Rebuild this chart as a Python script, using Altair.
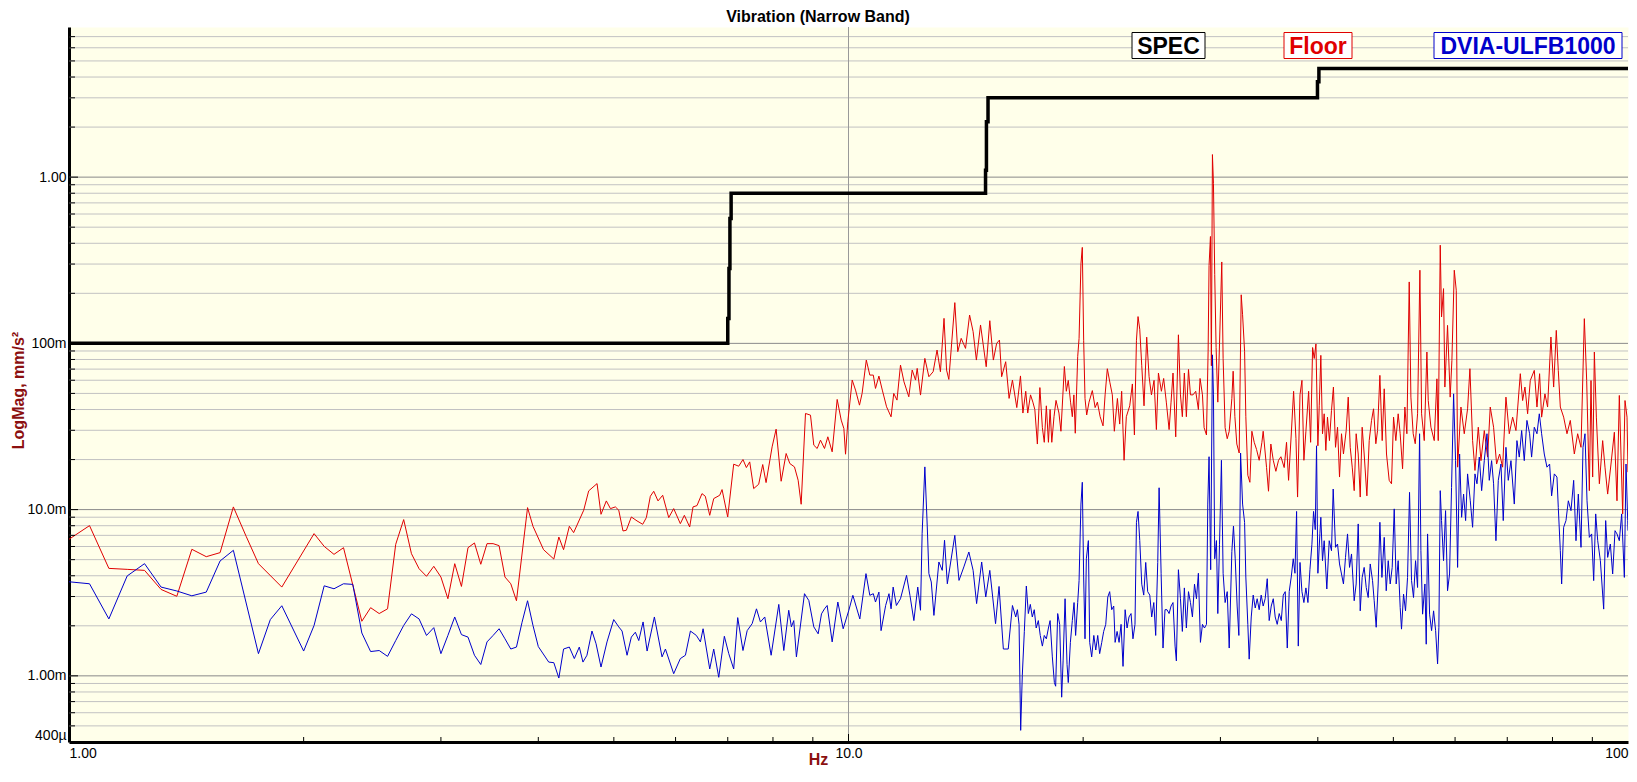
import altair as alt
import pandas as pd

# ---------------- data ----------------
SPEC_F = [1.0, 7.0, 7.0, 7.025, 7.025, 7.045, 7.045, 7.07, 7.07,
          14.99, 14.99, 15.03, 15.03, 15.1, 15.1,
          39.96, 39.96, 40.13, 40.13, 100.0]
SPEC_V = [0.1, 0.1, 0.141, 0.141, 0.282, 0.282, 0.564, 0.564, 0.8,
          0.8, 1.1, 1.1, 2.15, 2.15, 3.0,
          3.0, 3.75, 3.75, 4.5, 4.5]

FLOOR_F = [
    1.0, 1.0625, 1.125, 1.1875, 1.25, 1.3125, 1.375, 1.4375, 1.5, 1.5625,
    1.625, 1.6875, 1.75, 1.875, 2.0625, 2.125, 2.1875, 2.25, 2.375, 2.4375,
    2.5, 2.5625, 2.625, 2.6875, 2.75, 2.8125, 2.875, 2.9375, 3.0, 3.0625,
    3.125, 3.1875, 3.25, 3.3125, 3.375, 3.4375, 3.5, 3.5625, 3.625, 3.6875,
    3.75, 3.875, 3.9375, 4.0625, 4.1875, 4.25,
    4.31, 4.384, 4.44, 4.574, 4.642, 4.758, 4.814, 4.89, 4.95, 5.023,
    5.073, 5.137, 5.188, 5.265, 5.354, 5.445, 5.504, 5.569, 5.625, 5.697,
    5.776, 5.88, 5.967, 6.085, 6.158, 6.255, 6.317, 6.392, 6.487, 6.551,
    6.637, 6.716, 6.836, 6.883, 6.999, 7.124, 7.23, 7.322, 7.396, 7.469,
    7.557, 7.67, 7.762, 7.839, 7.98, 8.075, 8.196, 8.318, 8.409, 8.525,
    8.618, 8.695, 8.807, 8.938, 9.026, 9.116, 9.206, 9.316, 9.408, 9.529,
    9.671, 9.787, 9.864, 9.913, 9.98, 10.11, 10.21, 10.33, 10.41, 10.54,
    10.65, 10.76, 10.83, 10.94, 11.05, 11.19, 11.34, 11.43, 11.54, 11.66,
    11.78, 11.95, 12.07, 12.19, 12.25, 12.37, 12.53, 12.68, 12.84, 12.99,
    13.12, 13.26, 13.36, 13.45, 13.69, 13.81, 13.95, 14.13, 14.3, 14.45,
    14.59, 14.77, 15.02, 15.18, 15.34, 15.49, 15.62, 15.72, 15.91, 16.07,
    16.23,
    16.44, 16.62, 16.74, 16.88, 16.98, 17.12, 17.24, 17.34, 17.47, 17.60,
    17.73, 17.83, 17.94, 18.05, 18.14, 18.23, 18.35, 18.46, 18.62, 18.73,
    18.92, 19.03, 19.14, 19.27, 19.37, 19.46, 19.54, 19.68, 19.76, 19.87,
    19.95, 20.03, 20.11, 20.21, 20.35, 20.55, 20.72, 20.86, 21.03, 21.21,
    21.34, 21.48, 21.64, 21.80, 21.93, 22.13, 22.28, 22.41, 22.57, 22.72,
    22.95, 23.13, 23.27, 23.41, 23.52, 23.64, 23.78, 23.94, 24.13, 24.30,
    24.47, 24.66, 24.83, 24.98, 25.20, 25.37, 25.57, 25.78, 25.93, 26.08,
    26.29, 26.50, 26.66, 26.81, 26.97, 27.13, 27.30, 27.46, 27.67, 27.89,
    28.11, 28.25, 28.45, 28.59, 28.79, 28.93, 29.01, 29.13, 29.21, 29.30,
    29.39, 29.50, 29.62, 29.77, 29.92, 30.12, 30.24, 30.42, 30.61, 30.79,
    31.03, 31.15, 31.31, 31.49, 31.71, 31.90, 32.03, 32.22, 32.34, 32.53,
    32.73, 32.92, 33.15, 33.38, 33.64, 33.91, 34.04, 34.38, 34.58, 34.82,
    35.07, 35.34, 35.62, 35.87, 36.22, 36.47, 36.69, 36.98, 37.24, 37.50,
    37.68, 37.95, 38.17, 38.39, 38.62, 38.93, 39.16, 39.39, 39.58, 39.78,
    40.01, 40.17,
    40.36, 40.56, 40.76, 40.96, 41.16, 41.40, 41.65, 41.89, 42.15, 42.40,
    42.65, 42.90, 43.15, 43.50, 43.76, 44.02, 44.28, 44.54, 44.80, 45.07,
    45.34, 45.60, 45.87, 46.24, 46.56, 46.88, 47.16, 47.48, 47.72, 48.05,
    48.38, 48.67, 49.00, 49.39, 49.73, 50.03, 50.37, 50.72, 51.02, 51.38,
    51.73, 52.04, 52.40, 52.66, 53.02, 53.34, 53.71, 54.08, 54.35, 54.78,
    55.21, 55.43, 55.87, 56.42, 56.87, 57.09, 57.43, 57.65, 57.99, 58.22,
    58.68, 59.14, 59.44, 59.86, 60.21, 60.45, 61.05, 61.65, 62.26, 62.69,
    63.19, 63.63, 64.26, 64.77, 65.41, 66.05, 66.57, 67.23, 67.83, 68.44,
    69.05, 69.73, 70.42, 71.12, 71.82, 72.75, 73.25, 73.76, 74.34, 74.93,
    75.82, 76.42, 77.02, 77.48, 78.24, 78.86, 79.64, 80.28, 80.91, 81.39,
    81.88, 82.69, 83.51, 84.33, 85.34, 86.18, 87.04, 87.90, 88.51, 89.21,
    89.65, 90.09, 90.54, 91.08, 91.89, 92.79, 93.43, 94.17, 95.10, 96.05,
    96.80, 97.47, 98.44, 99.12, 99.71, 100.0,
]
FLOOR_V = [
    0.00663, 0.00801, 0.00443, 0.00437, 0.00431, 0.00331, 0.00301, 0.00577, 0.00521, 0.00551,
    0.01038, 0.00691, 0.00473, 0.00342, 0.00717, 0.00601, 0.00538, 0.0059, 0.00213, 0.00257,
    0.00237, 0.00253, 0.00618, 0.00871, 0.00543, 0.00441, 0.00397, 0.00456, 0.00393, 0.00291,
    0.00473, 0.00345, 0.0059, 0.0063, 0.00469, 0.00624, 0.00624, 0.00607, 0.00393, 0.00358,
    0.00283, 0.01028, 0.00794, 0.00574, 0.00504, 0.00684,
    0.00574, 0.00794, 0.00727, 0.00991, 0.01296, 0.01434, 0.00937, 0.01128, 0.01014, 0.01038,
    0.00991, 0.00744, 0.00751, 0.00903, 0.00855, 0.00816, 0.00895, 0.01203, 0.01289, 0.01128,
    0.0122, 0.00895, 0.01014, 0.00823, 0.00924, 0.00786, 0.01038, 0.01057, 0.01248, 0.01203,
    0.00924, 0.01165, 0.0122, 0.0132, 0.00903, 0.01876, 0.01824, 0.02001, 0.0179, 0.01937,
    0.01338, 0.01421, 0.01867, 0.01454, 0.02385, 0.03047, 0.01481, 0.02175, 0.01893, 0.01807,
    0.01502, 0.01077, 0.03787, 0.037, 0.02441, 0.02331, 0.02617, 0.02331, 0.02741, 0.02226,
    0.046, 0.03453, 0.03076, 0.02154, 0.03374, 0.06013, 0.05235, 0.0425, 0.05, 0.07937,
    0.06445, 0.06445, 0.05357, 0.06357, 0.05235, 0.04154, 0.03616, 0.05, 0.04557, 0.07405,
    0.05876, 0.04771, 0.0691, 0.06013, 0.0707, 0.04885, 0.08122, 0.063, 0.06752, 0.09118,
    0.06752, 0.1414, 0.0691, 0.06069, 0.1758, 0.0891, 0.1072, 0.0933, 0.1481, 0.1176,
    0.07937, 0.129, 0.07236, 0.1369, 0.07937, 0.1, 0.1047, 0.063, 0.07756, 0.04665,
    0.06013,
    0.0411, 0.0637, 0.0381, 0.0515, 0.0381, 0.0490, 0.0443, 0.0400, 0.0248, 0.0542,
    0.0311, 0.0254, 0.0421, 0.0254, 0.0400, 0.0254, 0.0362, 0.0454, 0.0381, 0.0296,
    0.0726, 0.0515, 0.0599, 0.0443, 0.0362, 0.0490, 0.0288, 0.0832, 0.1071, 0.3012,
    0.3778, 0.1044, 0.0466, 0.0371, 0.0443, 0.0520, 0.0411, 0.0443, 0.0362, 0.0319,
    0.0490, 0.0704, 0.0584, 0.0490, 0.0296, 0.0466, 0.0327, 0.0515, 0.0198, 0.0362,
    0.0421, 0.0570, 0.0281, 0.1044, 0.1449, 0.1215, 0.0733, 0.0421, 0.1090, 0.0630,
    0.0490, 0.0599, 0.0303, 0.0663, 0.0515, 0.0615, 0.0443, 0.0303, 0.0443, 0.0663,
    0.0274, 0.1126, 0.0490, 0.0362, 0.0663, 0.0362, 0.0697, 0.0490, 0.0490, 0.0515,
    0.0400, 0.0615, 0.0490, 0.0311, 0.0281, 0.0897, 0.2935, 0.4395, 0.0733, 1.367,
    0.913, 0.2588, 0.0944, 0.0443, 0.0992, 0.3088, 0.0811, 0.0311, 0.0267, 0.0296,
    0.0466, 0.0680, 0.0362, 0.0248, 0.0219, 0.1960, 0.1486, 0.0897, 0.0362, 0.0161,
    0.0146, 0.0296, 0.0254, 0.0230, 0.0198, 0.0254, 0.0296, 0.0179, 0.0129, 0.0248,
    0.0198, 0.0170, 0.0198, 0.0208, 0.0179, 0.0254, 0.0150, 0.0281, 0.0515, 0.0267,
    0.0119, 0.0490, 0.0599, 0.0198, 0.0296, 0.0515, 0.0254, 0.0944, 0.0811, 0.0992,
    0.0242, 0.0421,
    0.0847, 0.0286, 0.0377, 0.0227, 0.0360, 0.0260, 0.0395, 0.0546, 0.0237, 0.0313,
    0.0157, 0.0286, 0.0216, 0.0299, 0.0475, 0.0237, 0.0180, 0.0130, 0.0286, 0.0216,
    0.0119, 0.0313, 0.0216, 0.0121, 0.0260, 0.0344, 0.0404, 0.0249, 0.0299, 0.0642,
    0.0260, 0.0533, 0.0216, 0.0150, 0.0143, 0.0360, 0.0260, 0.0377, 0.0286, 0.0176,
    0.0414, 0.0286, 0.2342, 0.0475, 0.0286, 0.0249, 0.0377, 0.2754, 0.0377, 0.0260,
    0.0887, 0.0453, 0.0313, 0.0260, 0.0612, 0.0260, 0.3895, 0.1441, 0.2135, 0.0546,
    0.1283, 0.0475, 0.0790, 0.2754, 0.2086, 0.0180, 0.0414, 0.0286, 0.0404, 0.0704,
    0.0260, 0.0172, 0.0313, 0.0197, 0.0299, 0.0207, 0.0414, 0.0313, 0.0188, 0.0216,
    0.0180, 0.0475, 0.0286, 0.0360, 0.0299, 0.0657, 0.0453, 0.0546, 0.0377, 0.0598,
    0.0688, 0.0414, 0.0657, 0.0360, 0.0497, 0.0414, 0.1092, 0.0546, 0.1197, 0.0688,
    0.0414, 0.0360, 0.0286, 0.0344, 0.0216, 0.0286, 0.0237, 0.1408, 0.0598, 0.0130,
    0.0598, 0.0157, 0.0887, 0.0360, 0.0143, 0.0260, 0.0180, 0.0124, 0.0188, 0.0292,
    0.0113, 0.0486, 0.00942, 0.0453, 0.0360, 0.0168,
]

DVIA_F = [
    1.0, 1.0625, 1.125, 1.1875, 1.25, 1.3125, 1.375, 1.4375, 1.5, 1.5625,
    1.625, 1.75, 1.8125, 1.875, 2.0, 2.0625, 2.125, 2.1875, 2.25, 2.3125,
    2.375, 2.4375, 2.5, 2.5625, 2.625, 2.6875, 2.75, 2.8125, 2.875, 2.9375,
    3.0, 3.0625, 3.125, 3.1875, 3.25, 3.3125, 3.375, 3.4375, 3.5, 3.5625,
    3.625, 3.6875, 3.75, 3.8125, 3.875, 3.9375, 4.0, 4.125, 4.1875, 4.25,
    4.31, 4.384, 4.449, 4.515, 4.564, 4.618, 4.687, 4.744, 4.814, 4.90,
    4.998, 5.073, 5.123, 5.199, 5.265, 5.328, 5.382, 5.451, 5.516, 5.636,
    5.765, 5.823, 5.967, 6.085, 6.177, 6.269, 6.38, 6.457, 6.508, 6.637,
    6.716, 6.816, 6.93, 7.021, 7.124, 7.209, 7.322, 7.413, 7.523, 7.62,
    7.709, 7.809, 7.957, 8.139, 8.26, 8.382, 8.448, 8.507, 8.574, 8.781,
    8.894, 9.026, 9.143, 9.233, 9.316, 9.389, 9.529, 9.69, 9.844, 10.01,
    10.13, 10.34, 10.53, 10.65, 10.76, 10.83, 10.94, 11.01, 11.16, 11.27,
    11.34, 11.41, 11.52, 11.66, 11.87, 11.99, 12.13, 12.27, 12.37, 12.43,
    12.53, 12.62, 12.68, 12.77, 12.87, 13.06, 13.19, 13.28, 13.39, 13.69,
    13.86, 14.06, 14.27, 14.45, 14.60, 14.82, 15.0, 15.18, 15.44, 15.6,
    15.8, 16.03, 16.23,
    16.39, 16.47, 16.55, 16.63, 16.71, 16.81, 16.91, 17.01, 17.11, 17.21,
    17.31, 17.41, 17.52, 17.62, 17.73, 17.83, 17.94, 18.05, 18.14, 18.26,
    18.37, 18.44, 18.55, 18.66, 18.77, 18.85, 18.96, 19.07, 19.14, 19.26,
    19.37, 19.47, 19.56, 19.68, 19.76, 19.87, 19.95, 20.03, 20.11, 20.19,
    20.31, 20.39, 20.51, 20.64, 20.76, 20.88, 21.00, 21.13, 21.25, 21.38,
    21.51, 21.63, 21.76, 21.89, 21.98, 22.11, 22.24, 22.37, 22.50, 22.64,
    22.77, 22.90, 23.04, 23.17, 23.31, 23.41, 23.52, 23.64, 23.78, 23.92,
    24.06, 24.20, 24.35, 24.49, 24.64, 24.78, 24.93, 25.03, 25.18, 25.32,
    25.47, 25.62, 25.78, 25.93, 26.08, 26.24, 26.34, 26.50, 26.66, 26.81,
    26.97, 27.13, 27.30, 27.46, 27.62, 27.79, 27.95, 28.11, 28.28, 28.45,
    28.62, 28.79, 28.90, 29.01, 29.15, 29.30, 29.39, 29.50, 29.65, 29.77,
    29.92, 30.09, 30.24, 30.42, 30.61, 30.79, 31.03, 31.18, 31.34, 31.52,
    31.68, 31.84, 32.03, 32.22, 32.34, 32.53, 32.66, 32.86, 33.05, 33.25,
    33.44, 33.64, 33.84, 34.04, 34.24, 34.45, 34.65, 34.86, 35.07, 35.27,
    35.48, 35.69, 35.91, 36.12, 36.33, 36.55, 36.76, 36.98, 37.20, 37.39,
    37.57, 37.76, 37.95, 38.17, 38.39, 38.62, 38.85, 39.08, 39.31, 39.50,
    39.70, 39.85, 40.01, 40.25,
    40.36, 40.56, 40.76, 41.08, 41.37, 41.65, 41.86, 42.15, 42.40, 42.65,
    42.90, 43.15, 43.41, 43.67, 43.93, 44.19, 44.54, 44.80, 45.07, 45.34,
    45.60, 45.87, 46.15, 46.42, 46.70, 47.02, 47.25, 47.53, 47.81, 48.05,
    48.34, 48.67, 48.96, 49.25, 49.54, 49.83, 50.13, 50.42, 50.72, 51.02,
    51.22, 51.53, 51.83, 52.14, 52.45, 52.76, 53.07, 53.39, 53.71, 54.03,
    54.24, 54.51, 54.89, 55.10, 55.32, 55.65, 55.98, 56.31, 56.65, 56.98,
    57.20, 57.43, 57.65, 57.99, 58.34, 58.68, 59.03, 59.38, 59.74, 60.09,
    60.45, 60.81, 61.17, 61.53, 61.90, 62.26, 62.76, 63.19, 63.63, 64.01,
    64.45, 64.90, 65.41, 65.93, 66.38, 66.84, 67.23, 67.70, 68.17, 68.71,
    69.18, 69.73, 70.21, 70.77, 71.47, 72.03, 72.53, 73.04, 73.61, 74.19,
    74.78, 75.22, 75.82, 76.42, 76.95, 77.48, 78.09, 78.71, 79.33, 79.80,
    80.44, 81.07, 81.39, 81.88, 82.20, 82.69, 83.26, 83.84, 84.50, 85.17,
    85.76, 86.35, 87.04, 87.55, 88.07, 88.60, 89.21, 89.82, 90.36, 90.90,
    91.44, 92.16, 93.07, 93.62, 94.17, 94.92, 95.57, 96.24, 96.80, 97.47,
    98.15, 98.93, 99.42, 99.91, 100.0,
]
DVIA_V = [
    0.00368, 0.00358, 0.0022, 0.00399, 0.00473, 0.00342, 0.00324, 0.00303, 0.00319, 0.00491,
    0.00569, 0.00136, 0.00218, 0.00264, 0.00141, 0.00201, 0.00348, 0.00334, 0.00358, 0.00355,
    0.00181, 0.0014, 0.00142, 0.00131, 0.00163, 0.00201, 0.00236, 0.0022, 0.00175, 0.00195,
    0.00136, 0.00175, 0.00226, 0.00177, 0.00171, 0.00133, 0.00117, 0.0016, 0.00175, 0.00192,
    0.00167, 0.00145, 0.00149, 0.0021, 0.00283, 0.00201, 0.0015, 0.00121, 0.0012, 0.00097,
    0.00145, 0.00149, 0.00127, 0.00149, 0.00121, 0.00133, 0.00186, 0.00156, 0.00113, 0.0016,
    0.00218, 0.00197, 0.00186, 0.00133, 0.00171, 0.00183, 0.00163, 0.00211, 0.00141, 0.00226,
    0.0013, 0.00145, 0.00103, 0.00127, 0.00133, 0.00186, 0.00175, 0.0016, 0.00192, 0.0011,
    0.00145, 0.00098, 0.00173, 0.00136, 0.0011, 0.00224, 0.00142, 0.00187, 0.00206, 0.00253,
    0.00211, 0.00226, 0.00133, 0.00269, 0.00142, 0.00248, 0.00197, 0.00215, 0.0013, 0.00312,
    0.00284, 0.00197, 0.00179, 0.00236, 0.00253, 0.00265, 0.0016, 0.00278, 0.00192, 0.00248,
    0.00305, 0.0022, 0.00412, 0.00305, 0.00312, 0.00278, 0.00319, 0.00187, 0.00265, 0.00312,
    0.00253, 0.00342, 0.00265, 0.00291, 0.00402, 0.00305, 0.00215, 0.00342, 0.00248, 0.00717,
    0.01807, 0.00786, 0.00412, 0.00367, 0.00231, 0.00484, 0.00431, 0.00654, 0.00358, 0.007,
    0.00375, 0.00452, 0.00556, 0.00431, 0.00272, 0.00484, 0.00298, 0.00431, 0.00206, 0.00345,
    0.00145, 0.00145, 0.00265,
    0.00226, 0.0025, 0.00204, 0.00047, 0.00101, 0.00185, 0.00347, 0.00237, 0.00269, 0.00226,
    0.0025, 0.00194, 0.00215, 0.00175, 0.00151, 0.00175, 0.00167, 0.00194, 0.00215, 0.0013,
    0.000911, 0.000866, 0.00237, 0.00204, 0.000744, 0.00123, 0.00291, 0.00117, 0.000911, 0.00159,
    0.00215, 0.00276, 0.00175, 0.00276, 0.00374, 0.0108, 0.0146, 0.00393, 0.00167, 0.00506,
    0.00651, 0.00159, 0.0013, 0.00175, 0.00143, 0.00175, 0.00136, 0.00159, 0.00185, 0.00204,
    0.00298, 0.00321, 0.0025, 0.00263, 0.00159, 0.00185, 0.00159, 0.00204, 0.00114, 0.0025,
    0.00194, 0.00226, 0.00237, 0.00167, 0.00204, 0.00838, 0.00975, 0.00651, 0.00356, 0.00306,
    0.00481, 0.00321, 0.00306, 0.00226, 0.00276, 0.00175, 0.00481, 0.01353, 0.00414, 0.00147,
    0.0025, 0.0025, 0.00237, 0.00263, 0.00276, 0.00151, 0.00123, 0.00435, 0.00291, 0.00185,
    0.00338, 0.00194, 0.00321, 0.00276, 0.00226, 0.00356, 0.00291, 0.00414, 0.00159, 0.00204,
    0.00194, 0.00204, 0.0108, 0.0208, 0.00435, 0.0853, 0.0490, 0.00506, 0.00651, 0.00237,
    0.00619, 0.0198, 0.00414, 0.00276, 0.00321, 0.00147, 0.0056, 0.00797, 0.00506, 0.00263,
    0.00175, 0.0219, 0.0108, 0.00838, 0.00393, 0.00204, 0.00126, 0.00226, 0.00306, 0.00256,
    0.00291, 0.0025, 0.00306, 0.00263, 0.00291, 0.00384, 0.00215, 0.00263, 0.00291, 0.00226,
    0.00204, 0.00237, 0.00215, 0.00306, 0.00321, 0.00147, 0.00321, 0.00393, 0.00506, 0.00414,
    0.00975, 0.00151, 0.00481, 0.00321, 0.00276, 0.00338, 0.00276, 0.00435, 0.00619, 0.00975,
    0.00758, 0.0242, 0.00414, 0.0072,
    0.00899, 0.00493, 0.0065, 0.00333, 0.0065, 0.00566, 0.0133, 0.00593, 0.00621, 0.00471,
    0.0041, 0.00357, 0.00516, 0.00714, 0.00449, 0.00541, 0.00283, 0.00357, 0.0082, 0.00246,
    0.00391, 0.00449, 0.0034, 0.00296, 0.00471, 0.00374, 0.00283, 0.00196, 0.00357, 0.00839,
    0.00391, 0.00681, 0.00325, 0.00493, 0.00357, 0.00449, 0.0101, 0.00357, 0.00493, 0.00258,
    0.00191, 0.0031, 0.00246, 0.00391, 0.0127, 0.00374, 0.00296, 0.00493, 0.0034, 0.0286,
    0.00566, 0.00235, 0.00357, 0.00155, 0.00714, 0.00235, 0.00187, 0.00246, 0.00187, 0.00118,
    0.00196, 0.0130, 0.00859, 0.00493, 0.00986, 0.00325, 0.0041, 0.0136, 0.0497, 0.0197,
    0.00449, 0.0216, 0.00899, 0.0124, 0.00859, 0.0164, 0.0113, 0.00783, 0.0164, 0.0143,
    0.0207, 0.0130, 0.0197, 0.0286, 0.0150, 0.0197, 0.0143, 0.0065, 0.0150, 0.0188,
    0.00859, 0.0237, 0.0150, 0.0197, 0.0108, 0.0260, 0.0207, 0.0299, 0.0197, 0.0344,
    0.0286, 0.0207, 0.0313, 0.0286, 0.0377, 0.0286, 0.0216, 0.0180, 0.0188, 0.0121,
    0.0164, 0.0157, 0.0103, 0.00566, 0.00357, 0.00783, 0.00859, 0.0113, 0.00986, 0.0150,
    0.0065, 0.0124, 0.00593, 0.0237, 0.0286, 0.0113, 0.00681, 0.00714, 0.00374, 0.00942,
    0.0065, 0.00493, 0.00252, 0.00859, 0.00516, 0.00621, 0.0041, 0.00747, 0.00714, 0.0065,
    0.00942, 0.00391, 0.0188, 0.00859, 0.00747,
]

TITLE = "Vibration (Narrow Band)"
SERIES = ["SPEC", "Floor", "DVIA-ULFB1000"]
COLORS = ["#000000", "#E00000", "#0000CC"]
Y_LABEL_VALUES = [0.0004, 0.001, 0.01, 0.1, 1.0]
X_LABEL_VALUES = [1.0, 10.0, 100.0]
X_DOMAIN = [1.0, 100.0]
Y_DOMAIN = [0.0004, 8.0]

# ---------------- layout / style ----------------
W, H = 1559, 715
FONT = "Liberation Sans"
TITLE_RED = "#8B1010"
BG = "#FFFFEA"

xs = alt.Scale(type="log", domain=X_DOMAIN, nice=False)
ys = alt.Scale(type="log", domain=Y_DOMAIN, nice=False)


def series_df(f, v, sort=True):
    df = pd.DataFrame({"f": f, "v": v})
    if sort:
        df = df.sort_values("f", kind="stable").reset_index(drop=True)
    df["i"] = range(len(df))
    return df


decades_y = [1e-4, 1e-3, 1e-2, 1e-1, 1.0]
y_minor = [m * d for d in decades_y for m in range(2, 10)
           if Y_DOMAIN[0] * 1.001 < m * d < Y_DOMAIN[1] * 0.999]
y_major = [1e-3, 1e-2, 1e-1, 1.0]
x_minor = [m * d for d in [1.0, 10.0] for m in range(2, 10)]
x_major = [10.0]

x_axis = alt.Axis(values=X_LABEL_VALUES, format=".3s", title="Hz", grid=False,
                  ticks=False, domainColor="black", domainWidth=3,
                  labelFont=FONT, labelFontSize=14, labelColor="black",
                  labelPadding=4, labelFlush=True, labelOverlap=False,
                  titleFont=FONT, titleFontSize=16, titleFontWeight="bold",
                  titleColor=TITLE_RED, titleX=749, titleY=22,
                  titleAlign="center", titleBaseline="alphabetic")
y_axis = alt.Axis(values=Y_LABEL_VALUES, format=".3s", title="LogMag, mm/s²",
                  grid=False, ticks=False, domainColor="black", domainWidth=3,
                  labelFont=FONT, labelFontSize=14, labelColor="black",
                  labelPadding=3, labelFlush=True, labelOverlap=False,
                  titleFont=FONT, titleFontSize=16, titleFontWeight="bold",
                  titleColor=TITLE_RED, titleX=-51, titleY=363, titleAngle=270,
                  titleAlign="center", titleBaseline="middle")


def X(field="f"):
    return alt.X(f"{field}:Q", scale=xs, axis=x_axis)


def Y(field="v"):
    return alt.Y(f"{field}:Q", scale=ys, axis=y_axis)


grid_minor = alt.Chart(pd.DataFrame({"v": y_minor})).mark_rule(
    color="#C2C2C2", strokeWidth=1).encode(y=Y(), x=alt.value(0), x2=alt.value(W))
grid_major = alt.Chart(pd.DataFrame({"v": y_major})).mark_rule(
    color="#8A8A8A", strokeWidth=1).encode(y=Y(), x=alt.value(0), x2=alt.value(W))
grid_x = alt.Chart(pd.DataFrame({"f": x_major})).mark_rule(
    color="#999999", strokeWidth=1).encode(x=X(), y=alt.value(0), y2=alt.value(H))

ytick_minor = alt.Chart(pd.DataFrame({"v": y_minor})).mark_rule(
    color="black", strokeWidth=1).encode(y=Y(), x=alt.value(0), x2=alt.value(6))
ytick_major = alt.Chart(pd.DataFrame({"v": y_major})).mark_rule(
    color="black", strokeWidth=1).encode(y=Y(), x=alt.value(0), x2=alt.value(9))
xtick_minor = alt.Chart(pd.DataFrame({"f": x_minor})).mark_rule(
    color="black", strokeWidth=1).encode(x=X(), y=alt.value(H), y2=alt.value(H - 5))
xtick_major = alt.Chart(pd.DataFrame({"f": x_major})).mark_rule(
    color="black", strokeWidth=1).encode(x=X(), y=alt.value(H), y2=alt.value(H - 8))

floor = alt.Chart(series_df(FLOOR_F, FLOOR_V)).mark_line(
    color=COLORS[1], strokeWidth=1, clip=True).encode(
    x=X(), y=Y(), order=alt.Order("i:Q"))
dvia = alt.Chart(series_df(DVIA_F, DVIA_V)).mark_line(
    color=COLORS[2], strokeWidth=1, clip=True).encode(
    x=X(), y=Y(), order=alt.Order("i:Q"))
spec = alt.Chart(series_df(SPEC_F, SPEC_V, sort=False)).mark_line(
    color=COLORS[0], strokeWidth=3.5, clip=True, strokeJoin="miter").encode(
    x=X(), y=Y(), order=alt.Order("i:Q"))

# legend boxes and title (annotation positions in plot pixels)
BOX_X0 = [1063, 1215, 1365]
BOX_X1 = [1136, 1283, 1553]
legend_layers = []
for name, color, x0, x1 in zip(SERIES, COLORS, BOX_X0, BOX_X1):
    legend_layers.append(
        alt.Chart(alt.Data(values=[{}])).mark_rect(
            fill="white", stroke=color, strokeWidth=1).encode(
            x=alt.value(x0), x2=alt.value(x1),
            y=alt.value(5.5), y2=alt.value(31.5)))
    legend_layers.append(
        alt.Chart(alt.Data(values=[{}])).mark_text(
            text=name, color=color, font=FONT, fontSize=23, fontWeight="bold",
            align="center", baseline="middle").encode(
            x=alt.value((x0 + x1) / 2), y=alt.value(19.5)))

title_layer = alt.Chart(alt.Data(values=[{}])).mark_text(
    text=TITLE, color="black", font=FONT, fontSize=16, fontWeight="bold",
    align="center", baseline="alphabetic").encode(
    x=alt.value(749), y=alt.value(-5))

chart = alt.layer(
    grid_minor, grid_major, grid_x,
    floor, dvia, spec,
    ytick_minor, ytick_major, xtick_minor, xtick_major,
    *legend_layers, title_layer,
).properties(
    width=W, height=H,
    padding={"left": 61, "top": 19, "right": 1, "bottom": 26},
    autosize=alt.AutoSizeParams(type="none"),
    background="white",
).configure_view(fill=BG, stroke="transparent")

chart.save("out.html", embed_options={"renderer": "svg", "actions": False})
